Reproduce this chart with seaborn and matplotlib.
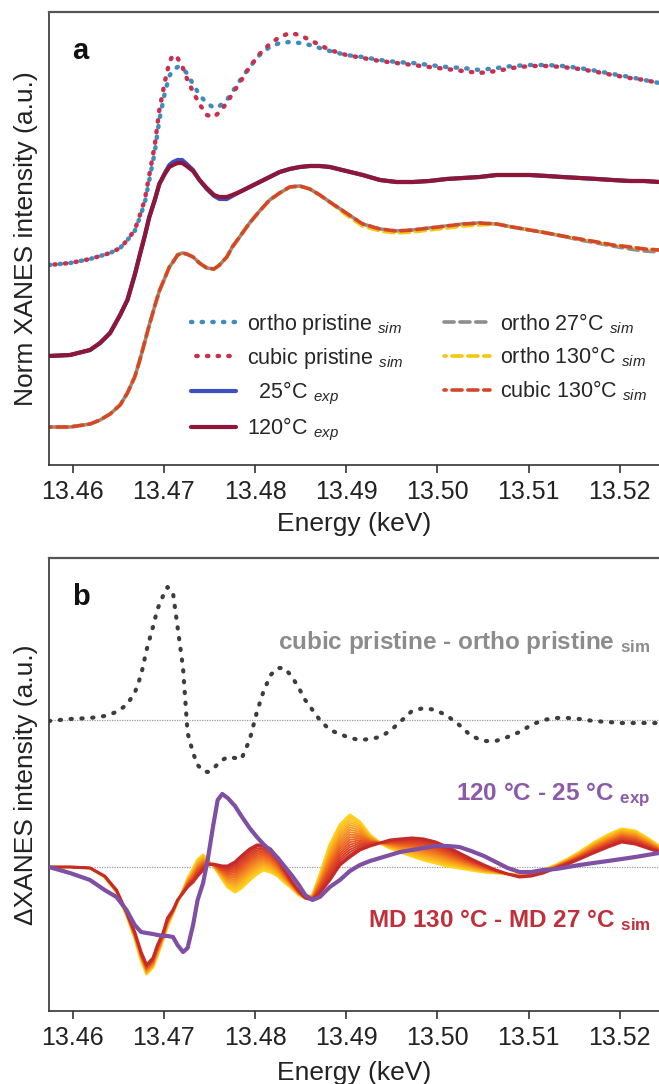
import numpy as np
import pandas as pd
import matplotlib
matplotlib.use("Agg")
import matplotlib.pyplot as plt
import seaborn as sns

# ---------------- data: panel a (normalised XANES, vertically offset) ----------------
energy_a = [13.4574, 13.4597, 13.4619, 13.4630, 13.4641, 13.4652, 13.4660, 13.4668, 13.4673, 13.4679, 13.4684,
            13.4690, 13.4695, 13.4701, 13.4706, 13.4710, 13.4715, 13.4720, 13.4725, 13.4732, 13.4739,
            13.4747, 13.4755, 13.4761, 13.4769, 13.4775, 13.4783, 13.4794, 13.4805, 13.4816, 13.4827,
            13.4838, 13.4849, 13.4860, 13.4871, 13.4882, 13.4900, 13.4918, 13.4937, 13.4955, 13.4973,
            13.4991, 13.5010, 13.5028, 13.5046, 13.5065, 13.5082, 13.5101, 13.5120, 13.5137, 13.5156,
            13.5175, 13.5192, 13.5211, 13.5227, 13.5243]

ortho_pristine_sim = [2.00, 2.02, 2.06, 2.09, 2.12, 2.17, 2.25, 2.34, 2.46, 2.62, 2.85,
                      3.13, 3.45, 3.72, 3.89, 3.95, 3.98, 3.97, 3.92, 3.81, 3.70,
                      3.62, 3.57, 3.59, 3.65, 3.73, 3.84, 3.98, 4.10, 4.18, 4.22,
                      4.23, 4.22, 4.20, 4.17, 4.14, 4.10, 4.08, 4.05, 4.03, 4.02,
                      4.00, 3.98, 3.97, 3.95, 3.97, 3.99, 4.00, 4.00, 3.99, 3.97,
                      3.94, 3.91, 3.88, 3.85, 3.82]

cubic_pristine_sim = [2.00, 2.02, 2.06, 2.09, 2.12, 2.17, 2.25, 2.35, 2.48, 2.65, 2.90,
                      3.20, 3.55, 3.83, 4.03, 4.10, 4.07, 3.99, 3.87, 3.73, 3.61,
                      3.50, 3.48, 3.53, 3.62, 3.71, 3.82, 3.98, 4.11, 4.21, 4.28,
                      4.32, 4.30, 4.25, 4.20, 4.15, 4.10, 4.07, 4.04, 4.02, 4.00,
                      3.98, 3.96, 3.94, 3.92, 3.94, 3.97, 3.99, 3.99, 3.98, 3.96,
                      3.93, 3.90, 3.87, 3.85, 3.82]

exp_25C = [1.09, 1.10, 1.15, 1.22, 1.32, 1.50, 1.65, 1.90, 2.08, 2.29, 2.48,
           2.65, 2.81, 2.92, 3.00, 3.03, 3.05, 3.05, 3.01, 2.95, 2.85,
           2.76, 2.69, 2.66, 2.66, 2.69, 2.73, 2.78, 2.83, 2.88, 2.93,
           2.96, 2.98, 2.99, 2.99, 2.98, 2.94, 2.90, 2.85, 2.83, 2.83,
           2.84, 2.86, 2.87, 2.88, 2.90, 2.90, 2.90, 2.89, 2.88, 2.87,
           2.86, 2.85, 2.84, 2.84, 2.83]

exp_120C = [1.09, 1.10, 1.15, 1.22, 1.32, 1.50, 1.65, 1.90, 2.08, 2.29, 2.48,
            2.65, 2.81, 2.91, 2.98, 3.00, 3.02, 3.02, 2.99, 2.94, 2.85,
            2.77, 2.70, 2.68, 2.68, 2.70, 2.73, 2.78, 2.83, 2.88, 2.93,
            2.96, 2.98, 2.99, 2.99, 2.98, 2.94, 2.90, 2.85, 2.83, 2.83,
            2.84, 2.86, 2.87, 2.88, 2.90, 2.90, 2.90, 2.89, 2.88, 2.87,
            2.86, 2.85, 2.84, 2.84, 2.83]

ortho_27C_sim = [0.38, 0.38, 0.41, 0.45, 0.51, 0.60, 0.72, 0.88, 1.03, 1.23, 1.40,
                 1.59, 1.74, 1.87, 1.98, 2.03, 2.10, 2.12, 2.11, 2.08, 2.02,
                 1.97, 1.96, 2.00, 2.08, 2.18, 2.28, 2.42, 2.54, 2.65, 2.72,
                 2.78, 2.79, 2.76, 2.70, 2.63, 2.52, 2.41, 2.36, 2.34, 2.35,
                 2.37, 2.39, 2.41, 2.42, 2.41, 2.38, 2.35, 2.32, 2.29, 2.25,
                 2.22, 2.19, 2.16, 2.14, 2.13]

ortho_130C_sim = [0.38, 0.38, 0.41, 0.45, 0.51, 0.60, 0.72, 0.88, 1.03, 1.23, 1.40,
                  1.59, 1.74, 1.87, 1.98, 2.03, 2.10, 2.12, 2.11, 2.08, 2.02,
                  1.97, 1.96, 2.00, 2.08, 2.18, 2.28, 2.42, 2.54, 2.65, 2.72,
                  2.78, 2.79, 2.76, 2.70, 2.63, 2.50, 2.39, 2.34, 2.32, 2.33,
                  2.35, 2.37, 2.39, 2.40, 2.41, 2.38, 2.35, 2.32, 2.29, 2.26,
                  2.23, 2.20, 2.18, 2.16, 2.15]

cubic_130C_sim = [0.38, 0.38, 0.41, 0.45, 0.51, 0.60, 0.72, 0.88, 1.03, 1.23, 1.40,
                  1.59, 1.74, 1.87, 1.98, 2.03, 2.10, 2.12, 2.11, 2.08, 2.02,
                  1.97, 1.96, 2.00, 2.08, 2.18, 2.28, 2.42, 2.54, 2.65, 2.72,
                  2.78, 2.79, 2.76, 2.70, 2.63, 2.52, 2.41, 2.36, 2.34, 2.35,
                  2.37, 2.39, 2.41, 2.42, 2.41, 2.38, 2.35, 2.32, 2.29, 2.26,
                  2.23, 2.20, 2.18, 2.16, 2.15]

# ---------------- data: panel b (difference spectra, vertically offset) ----------------
energy_b = [13.4574, 13.4597, 13.4619, 13.4635, 13.4648, 13.4659, 13.4668, 13.4675, 13.4681, 13.4688,
            13.4693, 13.4699, 13.4704, 13.4710, 13.4715, 13.4721, 13.4726, 13.4732, 13.4737, 13.4743,
            13.4748, 13.4754, 13.4759, 13.4764, 13.4770, 13.4778, 13.4785, 13.4794, 13.4802, 13.4809,
            13.4817, 13.4825, 13.4832, 13.4840, 13.4848, 13.4855, 13.4863, 13.4871, 13.4882, 13.4893,
            13.4904, 13.4915, 13.4926, 13.4937, 13.4948, 13.4959, 13.4972, 13.4985, 13.4998, 13.5011,
            13.5024, 13.5037, 13.5051, 13.5064, 13.5077, 13.5090, 13.5103, 13.5116, 13.5130, 13.5143,
            13.5156, 13.5171, 13.5187, 13.5202, 13.5217, 13.5230, 13.5243]

offset_pristine = 2.91
offset_heating = 1.44

diff_pristine_sim = [2.90, 2.92, 2.93, 2.95, 2.99, 3.06, 3.18, 3.36, 3.61, 3.84,
                     4.02, 4.15, 4.24, 4.18, 3.84, 3.43, 2.78, 2.58, 2.46, 2.40,
                     2.39, 2.42, 2.47, 2.51, 2.54, 2.53, 2.52, 2.71, 2.99, 3.19,
                     3.36, 3.43, 3.43, 3.35, 3.23, 3.11, 3.01, 2.91, 2.81, 2.77,
                     2.73, 2.71, 2.72, 2.74, 2.80, 2.89, 3.00, 3.03, 3.01, 2.95,
                     2.86, 2.75, 2.70, 2.70, 2.74, 2.79, 2.86, 2.91, 2.93, 2.93,
                     2.92, 2.90, 2.89, 2.88, 2.88, 2.88, 2.88]

diff_heating_exp = [1.44, 1.38, 1.31, 1.21, 1.14, 1.01, 0.86, 0.79, 0.78, 0.77,
                    0.76, 0.75, 0.75, 0.74, 0.66, 0.59, 0.63, 0.86, 1.11, 1.28,
                    1.51, 1.85, 2.11, 2.17, 2.13, 2.05, 1.95, 1.83, 1.74, 1.67,
                    1.60, 1.53, 1.45, 1.36, 1.26, 1.16, 1.11, 1.14, 1.24, 1.31,
                    1.40, 1.46, 1.50, 1.53, 1.56, 1.59, 1.61, 1.63, 1.65, 1.65,
                    1.64, 1.60, 1.55, 1.49, 1.43, 1.39, 1.39, 1.41, 1.42, 1.44,
                    1.46, 1.48, 1.50, 1.52, 1.54, 1.56, 1.58]

# first and last MD snapshot of the 130 °C - 27 °C difference
md_diff_first = [1.44, 1.44, 1.43, 1.34, 1.19, 0.96, 0.73, 0.51, 0.37, 0.44,
                 0.56, 0.71, 0.85, 0.98, 1.09, 1.21, 1.32, 1.42, 1.51, 1.56,
                 1.51, 1.45, 1.39, 1.32, 1.24, 1.19, 1.23, 1.31, 1.37, 1.41,
                 1.39, 1.35, 1.29, 1.23, 1.16, 1.13, 1.16, 1.36, 1.66, 1.86,
                 1.96, 1.89, 1.76, 1.68, 1.63, 1.59, 1.55, 1.51, 1.48, 1.45,
                 1.43, 1.41, 1.39, 1.38, 1.37, 1.36, 1.37, 1.41, 1.46, 1.52,
                 1.59, 1.68, 1.76, 1.82, 1.80, 1.73, 1.65]

md_diff_last = [1.44, 1.44, 1.43, 1.35, 1.21, 0.99, 0.79, 0.59, 0.46, 0.53,
                0.66, 0.78, 0.93, 1.01, 1.11, 1.18, 1.24, 1.29, 1.35, 1.41,
                1.46, 1.47, 1.46, 1.45, 1.45, 1.49, 1.55, 1.62, 1.66, 1.66,
                1.62, 1.53, 1.42, 1.30, 1.20, 1.13, 1.11, 1.18, 1.31, 1.46,
                1.54, 1.61, 1.65, 1.68, 1.71, 1.72, 1.73, 1.72, 1.69, 1.64,
                1.58, 1.52, 1.46, 1.41, 1.37, 1.34, 1.35, 1.38, 1.43, 1.47,
                1.52, 1.58, 1.64, 1.69, 1.67, 1.63, 1.59]

md_snapshots = 18

energy_ticks = [13.46, 13.47, 13.48, 13.49, 13.50, 13.51, 13.52]

# ---------------- style ----------------
sns.set_style("ticks")
plt.rcParams["font.family"] = ["Liberation Sans", "DejaVu Sans"]
plt.rcParams["mathtext.fontset"] = "custom"
plt.rcParams["mathtext.rm"] = "Liberation Sans"
plt.rcParams["mathtext.it"] = "Liberation Sans:italic"
plt.rcParams["mathtext.bf"] = "Liberation Sans:bold"
plt.rcParams["axes.edgecolor"] = "#333333"
plt.rcParams["axes.linewidth"] = 1.2
plt.rcParams["xtick.color"] = "#333333"
plt.rcParams["xtick.labelcolor"] = "#222222"

df_a = pd.DataFrame({
    "energy": energy_a,
    "ortho_pristine": ortho_pristine_sim,
    "cubic_pristine": cubic_pristine_sim,
    "exp25": exp_25C,
    "exp120": exp_120C,
    "ortho27": ortho_27C_sim,
    "ortho130": ortho_130C_sim,
    "cubic130": cubic_130C_sim,
})
df_b = pd.DataFrame({
    "energy": energy_b,
    "pristine": diff_pristine_sim,
    "heating": diff_heating_exp,
    "md_first": md_diff_first,
    "md_last": md_diff_last,
})

W, H = 659, 1084
fig = plt.figure(figsize=(W / 100, H / 100), dpi=100)
ax_a = fig.add_axes([49 / W, 1 - 465 / H, 610 / W, 453 / H])
ax_b = fig.add_axes([49 / W, 1 - 1011 / H, 610 / W, 453 / H])

dot = (0, (0.3, 2.1))
dot_shift = (1.2, (0.3, 2.1))
dash = (0, (2.8, 1.6))
dash_shift = (2.2, (2.8, 1.6))

def line(ax, y, color, lw, ls, label=None, data=df_a, zorder=2):
    sns.lineplot(data=data, x="energy", y=y, ax=ax, color=color, lw=lw,
                 linestyle=ls, dash_capstyle="round", label=label,
                 estimator=None, sort=False, legend=False, zorder=zorder)

# panel a
line(ax_a, "ortho_pristine", "#3f8cbd", 3.2, dot, r"ortho pristine $_{sim}$")
line(ax_a, "cubic_pristine", "#c8304f", 3.2, dot_shift, r"cubic pristine $_{sim}$")
line(ax_a, "exp25", "#3d4fc4", 3.0, "-", r"  25°C $_{exp}$")
line(ax_a, "exp120", "#8e1639", 3.0, "-", r"120°C $_{exp}$")
line(ax_a, "ortho27", "#8d8d8d", 2.6, dash, r"ortho 27°C $_{sim}$")
line(ax_a, "ortho130", "#f2c811", 2.6, dash_shift, r"ortho 130°C $_{sim}$")
line(ax_a, "cubic130", "#d4472c", 2.6, dash_shift, r"cubic 130°C $_{sim}$")

ax_a.legend(ncol=2, loc="upper left", bbox_to_anchor=(0.205, 0.378), frameon=False,
            fontsize=15.5, handlelength=2.1, handletextpad=0.5, columnspacing=1.9,
            labelspacing=0.42, borderpad=0.3)

# panel b
ax_b.axhline(offset_pristine, color="#9a9a9a", lw=0.9, ls=(0, (1, 1)), zorder=1)
ax_b.axhline(offset_heating, color="#9a9a9a", lw=0.9, ls=(0, (1, 1)), zorder=1)
line(ax_b, "pristine", "#3d3d3d", 3.0, (0, (0.3, 2.3)), data=df_b)

md_colors = sns.blend_palette(["#ffd21c", "#f7931e", "#e8521f", "#c72a2a"], md_snapshots)
first = np.array(md_diff_first)
last = np.array(md_diff_last)
for k in range(md_snapshots):
    frame = pd.DataFrame({"energy": energy_b,
                          "md": first + (last - first) * k / (md_snapshots - 1)})
    line(ax_b, "md", md_colors[k], 1.3 if 0 < k < md_snapshots - 1 else 2.2, "-",
         data=frame, zorder=3)
line(ax_b, "heating", "#7f4fa3", 3.0, "-", data=df_b, zorder=4)

ax_b.text(13.5234, 3.69, r"cubic pristine - ortho pristine $_{\mathbf{sim}}$",
          color="#8c8c8c", fontsize=17.5, fontweight="bold", ha="right", va="center")
ax_b.text(13.5234, 2.16, r"120 °C - 25 °C $_{\mathbf{exp}}$",
          color="#8b5aa8", fontsize=17.5, fontweight="bold", ha="right", va="center")
ax_b.text(13.5234, 0.91, r"MD 130 °C - MD 27 °C $_{\mathbf{sim}}$",
          color="#c0303a", fontsize=17.5, fontweight="bold", ha="right", va="center")

# shared axis formatting
for ax, tag, ylabel, xpad in [(ax_a, "a", "Norm XANES intensity (a.u.)", 6),
                              (ax_b, "b", "ΔXANES intensity (a.u.)", 8)]:
    ax.set_xlim(13.4574, 13.5243)
    ax.set_ylim(0, 4.53)
    ax.set_yticks([])
    ax.set_xticks(energy_ticks)
    ax.set_xticklabels([f"{t:.2f}" for t in energy_ticks])
    ax.tick_params(axis="x", labelsize=18, length=5.5, width=1.2, pad=5, direction="out")
    ax.set_xlabel("Energy (keV)", fontsize=19, labelpad=xpad, color="#222222")
    ax.set_ylabel(ylabel, fontsize=19, labelpad=8, color="#222222")
    ax.spines["right"].set_visible(False)
    ax.spines["top"].set_color("#555555")
    ax.spines["top"].set_linewidth(1.6)
    ax.text(0.052, 0.913, tag, transform=ax.transAxes, fontsize=21, fontweight="bold",
            ha="center", va="center", color="#111111")

fig.savefig("out.png", dpi=100)
